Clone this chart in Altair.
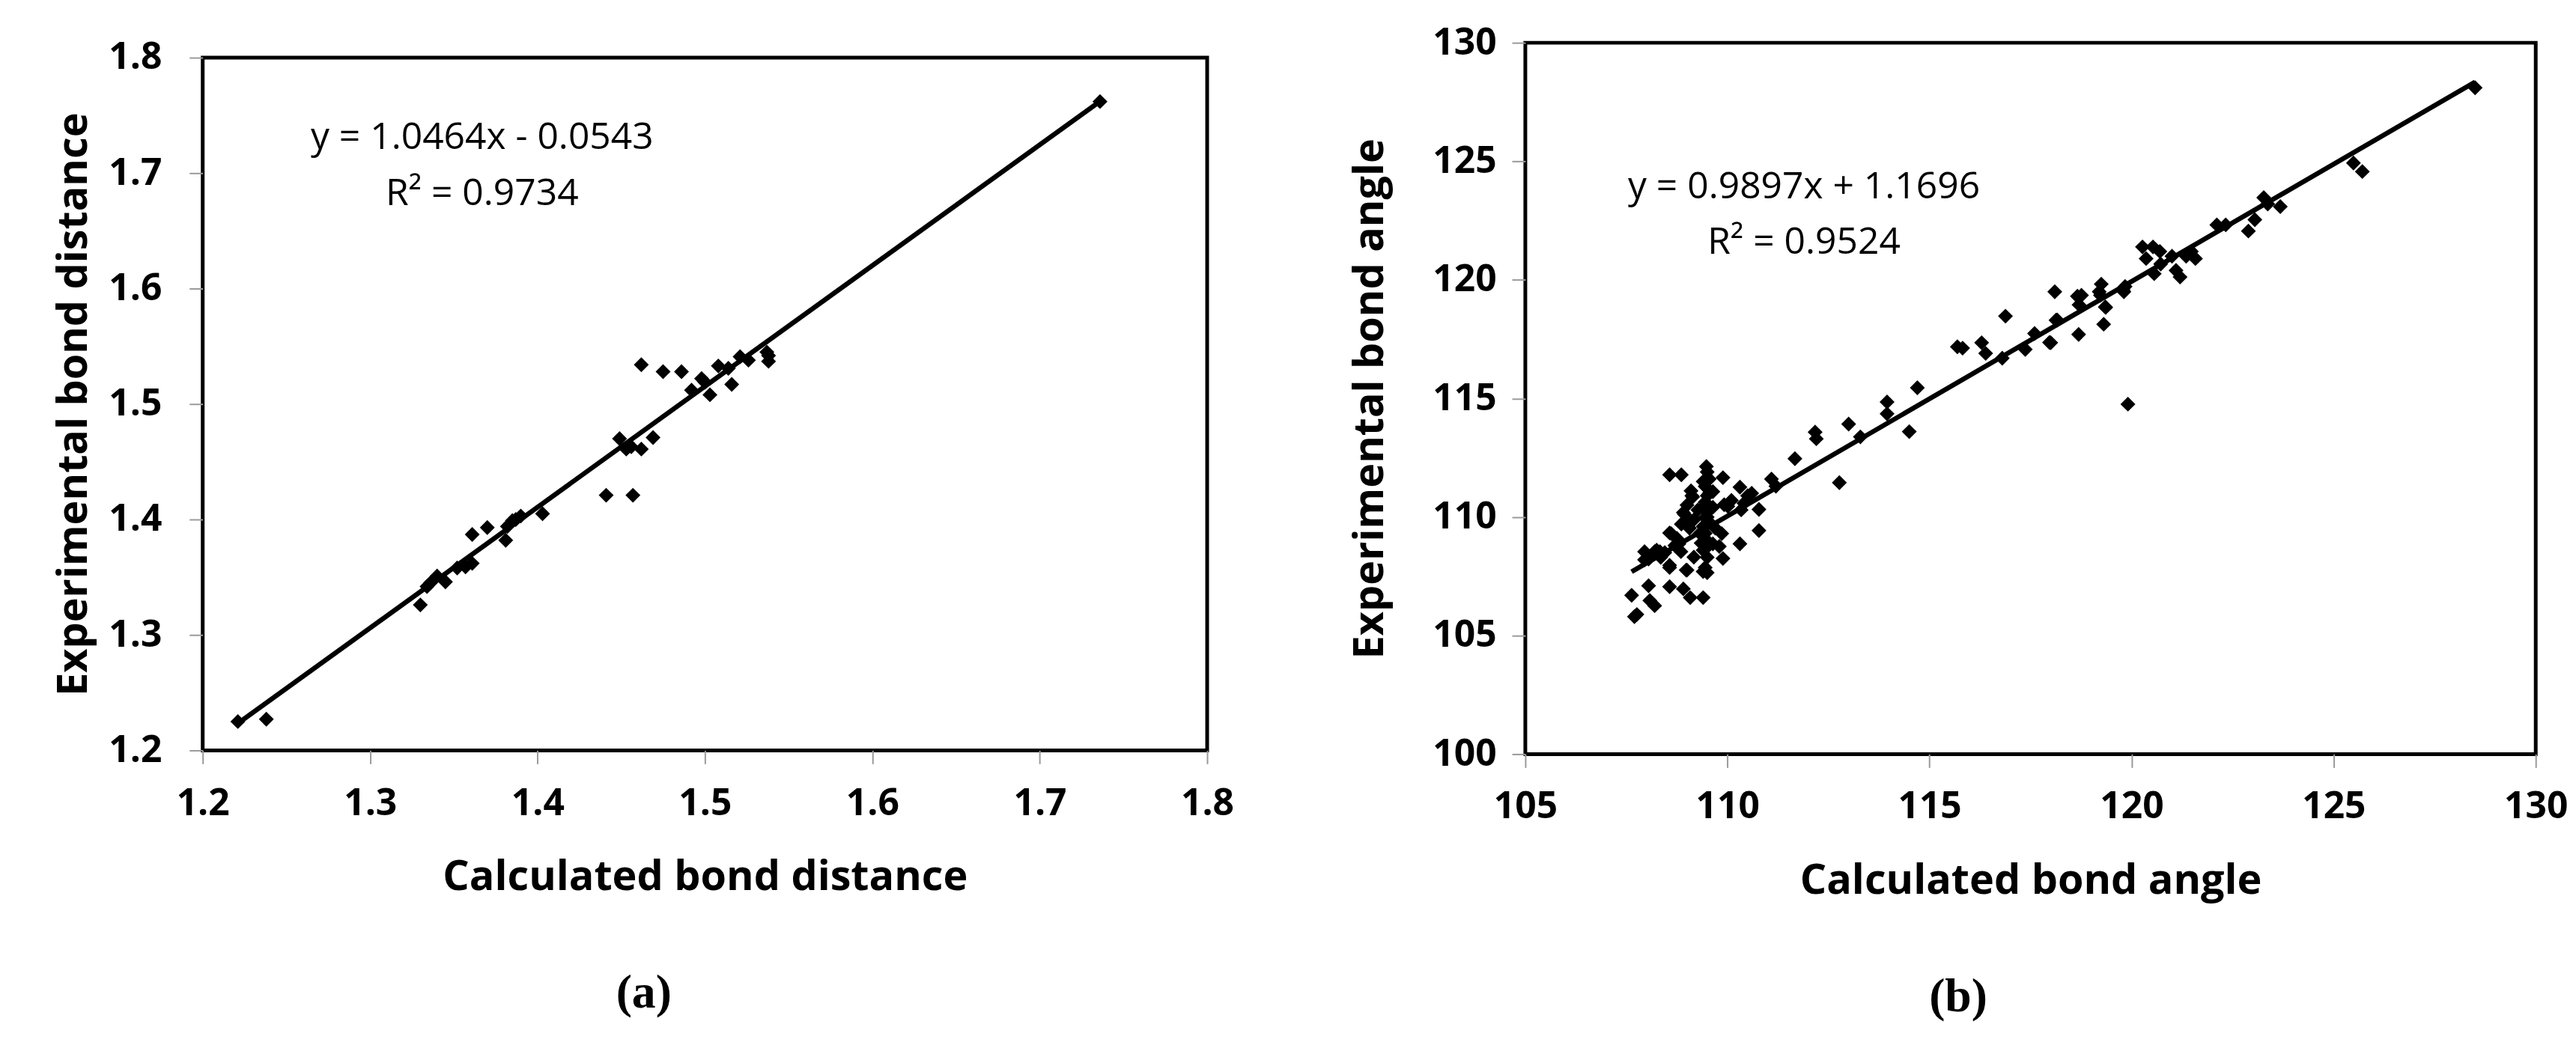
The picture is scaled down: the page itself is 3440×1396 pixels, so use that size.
import altair as alt
import pandas as pd

# ---------------- data: panel (a) bond distances ----------------
dist_calc = [1.221, 1.238, 1.330, 1.334, 1.336, 1.340, 1.345, 1.352, 1.357, 1.361,
             1.361, 1.370, 1.381, 1.382, 1.385, 1.387, 1.390, 1.403, 1.441, 1.457,
             1.449, 1.453, 1.456, 1.462, 1.469, 1.462, 1.475, 1.486, 1.492, 1.498,
             1.500, 1.503, 1.508, 1.516, 1.514, 1.521, 1.526, 1.537, 1.538, 1.538,
             1.736]
dist_exp = [1.225, 1.227, 1.326, 1.342, 1.345, 1.351, 1.346, 1.358, 1.359, 1.362,
            1.387, 1.393, 1.382, 1.394, 1.399, 1.400, 1.403, 1.405, 1.421, 1.421,
            1.470, 1.461, 1.463, 1.461, 1.471, 1.534, 1.528, 1.528, 1.512, 1.522,
            1.519, 1.508, 1.533, 1.517, 1.531, 1.541, 1.538, 1.545, 1.537, 1.542,
            1.762]

# ---------------- data: panel (b) bond angles ----------------
angle_calc = [107.63, 107.76, 107.70, 108.05, 108.08, 108.20, 107.95, 108.14, 108.33, 107.95,
              108.05, 108.20, 108.61, 108.57, 108.57, 108.57, 108.86, 108.91, 109.08, 109.40,
              108.98, 108.91, 108.98, 109.06, 109.14, 108.80, 108.85, 109.48, 109.45, 109.45,
              109.45, 109.45, 109.45, 109.45, 109.50, 109.64, 109.64, 109.70, 109.64, 109.27,
              109.89, 109.92, 109.89, 109.80, 110.31, 110.34, 110.31, 110.78, 110.78, 111.09,
              111.20, 110.01, 110.41, 109.00, 108.57, 108.57, 109.12, 108.94, 108.86, 109.18,
              109.86, 109.32, 109.17, 109.55, 109.55, 109.50, 109.60, 109.35,
              109.50, 109.50, 109.50, 109.50, 109.50, 109.40, 109.40, 109.40, 109.40, 109.40,
              109.00, 109.10, 108.75, 108.70, 108.45, 108.35, 108.25, 110.10, 110.50, 110.60,
              111.67, 112.17, 112.20, 112.77, 113.00, 113.29, 113.95, 113.95, 114.50, 114.70,
              115.69, 115.82, 116.29, 116.39, 116.88, 116.80, 117.37, 117.60, 118.00, 118.10,
              118.13, 118.66, 118.69, 118.70, 119.25, 119.31, 119.35, 119.20, 119.81, 119.84,
              119.91, 119.79, 119.23, 119.36, 118.76, 118.16, 117.97,
              120.27, 120.36, 120.53, 120.56, 120.70, 120.72, 121.00, 121.10, 121.20, 121.35,
              121.48, 121.58, 122.11, 122.33, 122.89, 123.05, 123.27, 123.37, 123.68, 125.49,
              125.71, 128.50]
angle_exp = [106.70, 105.89, 105.80, 107.10, 106.48, 106.26, 108.54, 108.42, 108.54, 108.20,
             108.23, 108.54, 109.30, 107.87, 107.06, 111.78, 111.78, 106.97, 106.60, 106.60,
             107.76, 110.19, 109.86, 109.53, 110.85, 108.87, 108.54, 112.13, 111.29, 110.63,
             109.97, 109.31, 108.65, 107.87, 107.65, 111.07, 110.41, 109.53, 108.87, 110.30,
             111.66, 110.52, 108.25, 108.76, 111.26, 110.30, 108.87, 110.32, 109.43, 111.60,
             111.30, 110.45, 110.58, 107.76, 109.33, 107.96, 110.90, 110.11, 109.70, 109.90,
             109.30, 109.31, 108.31, 111.60, 111.00, 110.20, 109.70, 108.90,
             111.90, 110.90, 110.00, 109.00, 108.30, 111.50, 110.40, 109.60, 108.60, 107.70,
             110.50, 111.10, 109.10, 108.80, 108.50, 108.30, 108.60, 110.70, 110.90, 111.00,
             112.46, 113.58, 113.30, 111.45, 113.92, 113.38, 114.85, 114.35, 113.60, 115.45,
             117.18, 117.12, 117.35, 116.90, 118.47, 116.70, 117.07, 117.74, 117.35, 119.50,
             118.30, 119.31, 117.70, 118.95, 119.82, 118.13, 118.86, 119.50, 119.50, 119.72,
             114.76, 119.57, 119.35, 118.84, 119.35, 118.31, 117.36,
             121.39, 120.90, 121.39, 120.26, 121.20, 120.67, 121.00, 120.40, 120.12, 121.00,
             121.20, 120.90, 122.32, 122.32, 122.06, 122.54, 123.47, 123.20, 123.09, 124.93,
             124.57, 128.10]

# trendline coefficients (slope, intercept) and R² as printed on the chart
fit_a = [1.0464, -0.0543, 0.9734]
fit_b = [0.9897, 1.1696, 0.9524]

ticks_a = [1.2, 1.3, 1.4, 1.5, 1.6, 1.7, 1.8]
ticks_b = [100, 105, 110, 115, 120, 125, 130]
ticks_bx = [105, 110, 115, 120, 125, 130]

FONT = "Open Sans"


def eq_text(c):
    sign = "-" if c[1] < 0 else "+"
    return f"y = {c[0]:.4f}x {sign} {abs(c[1]):.4f}"


def panel(xs, ys, coef, xdom, ydom, xticks, yticks, fmt, xtitle, ytitle,
          w, h, ylabpad, ytitpad, eqx, eqy, caption, cap_dx):
    df = pd.DataFrame({"x": xs, "y": ys})
    one = pd.DataFrame({"k": [0]})
    xsc = alt.Scale(domain=xdom, nice=False, zero=False)
    ysc = alt.Scale(domain=ydom, nice=False, zero=False)
    xax = alt.Axis(values=xticks, format=fmt, title=xtitle, grid=False, domain=False,
                   tickColor="#9a9a9a", tickWidth=2, tickSize=18, labelPadding=28,
                   labelFont=FONT, labelFontSize=50, labelFontWeight="bold", labelColor="black",
                   titleFont=FONT, titleFontSize=56, titleFontWeight="bold", titleColor="black",
                   titlePadding=47, labelFlush=False, labelOverlap=False)
    yax = alt.Axis(values=yticks, format=fmt, title=ytitle, grid=False, domain=False,
                   tickColor="#9a9a9a", tickWidth=2, tickSize=18, labelPadding=ylabpad,
                   labelFont=FONT, labelFontSize=50, labelFontWeight="bold", labelColor="black",
                   titleFont=FONT, titleFontSize=56, titleFontWeight="bold", titleColor="black",
                   titlePadding=ytitpad, labelFlush=False, labelOverlap=False)
    pts = alt.Chart(df).mark_point(shape="diamond", filled=True, size=400,
                                   color="black", opacity=1).encode(
        x=alt.X("x:Q", scale=xsc, axis=xax),
        y=alt.Y("y:Q", scale=ysc, axis=yax),
    )
    line_df = pd.DataFrame({"x": [min(xs), max(xs)]})
    line = alt.Chart(line_df).mark_line(color="black", strokeWidth=6.5).transform_calculate(
        y=f"{coef[0]}*datum.x + ({coef[1]})"
    ).encode(
        x=alt.X("x:Q", scale=xsc),
        y=alt.Y("y:Q", scale=ysc),
    )
    eq1 = alt.Chart(one).mark_text(font=FONT, fontSize=50, color="black", align="center",
                                   baseline="middle").encode(
        x=alt.value(eqx), y=alt.value(eqy[0]), text=alt.value(eq_text(coef)))
    eq2 = alt.Chart(one).mark_text(font=FONT, fontSize=50, color="black", align="center",
                                   baseline="middle").encode(
        x=alt.value(eqx), y=alt.value(eqy[1]), text=alt.value(f"R² = {coef[2]:.4f}"))
    return alt.layer(pts, line, eq1, eq2).properties(
        width=w, height=h,
        title=alt.TitleParams(caption, orient="bottom", anchor="middle", font="Liberation Serif",
                              fontSize=64, fontWeight="bold", color="black", offset=96,
                              dx=cap_dx),
    )


def spacer():
    return alt.Chart(pd.DataFrame({"v": [0]})).mark_point(opacity=0, size=1).encode(
        x=alt.X("v:Q", axis=None), y=alt.Y("v:Q", axis=None)
    ).properties(width=4, height=1, view=alt.ViewBackground(stroke="transparent"))


left = panel(dist_calc, dist_exp, fit_a, [1.2, 1.8], [1.2, 1.8], ticks_a, ticks_a, ".1f",
             "Calculated bond distance", "Experimental bond distance",
             1348, 930, 37, 18, 375, [108, 183], "(a)", -82)
right = panel(angle_calc, angle_exp, fit_b, [105, 130], [100, 130], ticks_bx, ticks_b, "d",
              "Calculated bond angle", "Experimental bond angle",
              1356, 955, 21, 55, 374, [194, 268], "(b)", -97)

left_col = alt.vconcat(spacer(), left, spacing=31)
right_col = alt.vconcat(spacer(), right, spacing=11)

chart = alt.hconcat(left_col, right_col, spacing=148).properties(
    padding={"left": 60, "top": 0, "right": 0, "bottom": 0},
    background="white",
).configure_view(stroke="black", strokeWidth=5)

chart.save("out.html", embed_options={"renderer": "svg", "actions": False})
